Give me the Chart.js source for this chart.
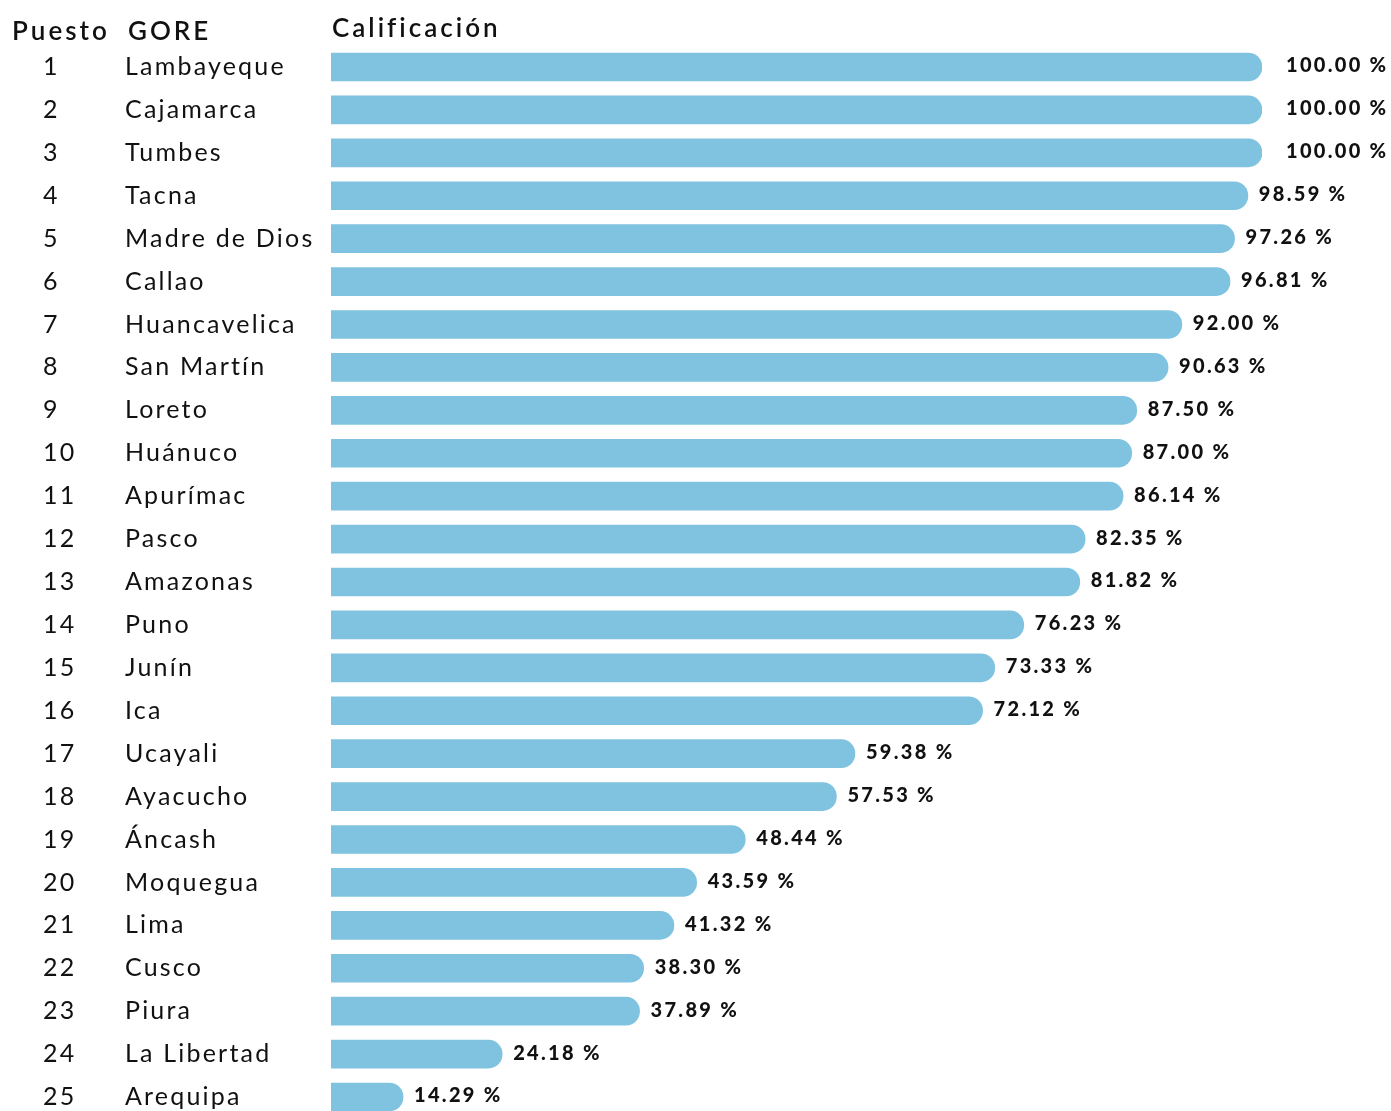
<!DOCTYPE html>
<html><head><meta charset="utf-8">
<script src="https://cdn.jsdelivr.net/npm/chart.js@4.4.1/dist/chart.umd.min.js"></script>
<style>
html,body{margin:0;padding:0;background:#fff;overflow:hidden;}
#wrap{position:relative;width:1391px;height:1125px;}
</style></head>
<body>
<div id="wrap"><canvas id="c"></canvas></div>
<script>
// ranking de GOREs por calificación
const PUESTOS=['1','2','3','4','5','6','7','8','9','10','11','12','13','14','15','16','17','18','19','20','21','22','23','24','25'];
const GORES=['Lambayeque','Cajamarca','Tumbes','Tacna','Madre de Dios','Callao','Huancavelica','San Martín','Loreto','Huánuco','Apurímac','Pasco','Amazonas','Puno','Junín','Ica','Ucayali','Ayacucho','Áncash','Moquegua','Lima','Cusco','Piura','La Libertad','Arequipa'];
const CALIF=[100,100,100,98.59,97.26,96.81,92.00,90.63,87.50,87.00,86.14,82.35,81.82,76.23,73.33,72.12,59.38,57.53,48.44,43.59,41.32,38.30,37.89,24.18,14.29];
const CABECERAS=['Puesto','GORE','Calificación'];

const FONT='Lato, "DejaVu Sans", sans-serif';

const textos={
  id:'textos',
  afterDatasetsDraw(chart){
    const ctx=chart.ctx, y=chart.scales.y, meta=chart.getDatasetMeta(0);
    ctx.save();
    ctx.fillStyle='#111';
    ctx.textBaseline='middle';
    // cabeceras
    ctx.letterSpacing='3px';
    ctx.font='600 26px '+FONT;
    ctx.fillText(CABECERAS[0],12,32);
    ctx.fillText(CABECERAS[1],128,32);
    ctx.fillText(CABECERAS[2],332,29);
    GORES.forEach((g,i)=>{
      const py=y.getPixelForValue(i);
      ctx.font='400 25px '+FONT;
      ctx.letterSpacing='2.2px';
      ctx.fillText(PUESTOS[i],43,py);
      ctx.fillText(g,125,py);
      const bar=meta.data[i];
      ctx.font='900 20px '+FONT;
      ctx.letterSpacing='2.3px';
      ctx.fillText(CALIF[i].toFixed(2)+' %',bar.x+(CALIF[i]>=100?24:11),py-1);
    });
    ctx.restore();
  }
};

new Chart(document.getElementById('c'),{
  type:'bar',
  data:{labels:GORES,datasets:[{data:CALIF,backgroundColor:'#80C3E0',borderRadius:14,borderSkipped:'start',barThickness:28}]},
  options:{
    indexAxis:'y',responsive:true,maintainAspectRatio:false,animation:false,
    layout:{padding:{left:331,right:129,top:45.5,bottom:6.5}},
    plugins:{legend:{display:false},tooltip:{enabled:false}},
    scales:{
      // el eje arranca fuera del área visible: las barras nacen cortadas en x=331
      x:{min:7.1,max:100,display:false},
      y:{display:false}
    }
  },
  plugins:[textos]
});
</script>
</body></html>
